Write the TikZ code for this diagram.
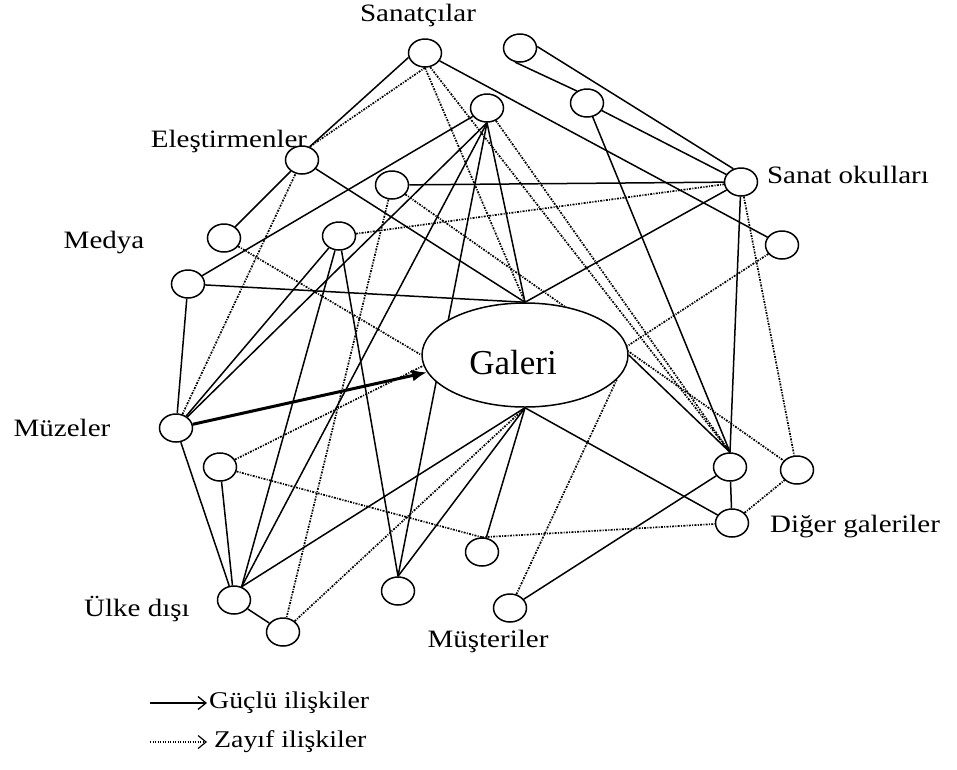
\documentclass[tikz,border=0pt]{standalone}
\usepackage{fontspec}
\setmainfont{Liberation Serif}
\newfontfamily\lblfont[FakeStretch=1.16]{Liberation Serif}
\usetikzlibrary{shapes.geometric,arrows.meta}
\pgfdeclarelayer{bg}
\pgfsetlayers{bg,main}
\begin{document}
\begin{tikzpicture}[x=1pt,y=-1pt,
  nd/.style={draw,ellipse,fill=white,minimum width=33pt,minimum height=28pt,inner sep=0pt,line width=1.5pt},
  galnode/.style={draw,ellipse,fill=white,minimum width=206pt,minimum height=104pt,inner sep=0pt,line width=1.5pt},
  galtext/.style={font=\fontsize{35}{40}\selectfont,inner sep=0pt},
  lbl/.style={font=\lblfont\fontsize{25}{30}\selectfont,inner sep=0pt},
  leg/.style={font=\lblfont\fontsize{24}{28}\selectfont,inner sep=0pt,anchor=west},
  strong/.style={line width=1.5pt},
  weak/.style={line width=1.7pt,dash pattern=on 2pt off 1.3pt on 1pt off 1.3pt},
  bigarrow/.style={line width=3pt,-{Latex[length=15pt,width=12pt]}}
]
\useasboundingbox (0,0) rectangle (957,769);
% nodes
\node[nd] (S1) at (425,53) {};
\node[nd] (S2) at (520,48) {};
\node[nd] (A) at (487,108) {};
\node[nd] (B) at (587,103) {};
\node[nd] (E) at (302,160) {};
\node[nd] (F) at (392,185) {};
\node[nd] (SO) at (741,182) {};
\node[nd] (M1) at (224,238) {};
\node[nd] (G) at (339,236) {};
\node[nd] (R) at (782,245) {};
\node[nd] (M2) at (188,284) {};
\node[galnode] (gal) at (525,355) {};
\node[galtext] (galt) at (513,363) {Galeri};
\node[nd] (MZ) at (176,428) {};
\node[nd] (H) at (220,467) {};
\node[nd] (U) at (234,600) {};
\node[nd] (U2) at (283,632) {};
\node[nd] (K) at (398,591) {};
\node[nd] (L) at (482,552) {};
\node[nd] (MS) at (510,608) {};
\node[nd] (D1) at (730,467) {};
\node[nd] (D2) at (732,523) {};
\node[nd] (D3) at (797,470) {};
% labels
\node[lbl] (tS) at (418,15) {Sanatçılar};
\node[lbl] (tE) at (229,141) {Eleştirmenler};
\node[lbl] (tSO) at (848,175) {Sanat okulları};
\node[lbl] (tM) at (104,243) {Medya};
\node[lbl] (tMZ) at (62,428) {Müzeler};
\node[lbl] (tD) at (855,527) {Diğer galeriler};
\node[lbl] (tU) at (137,609) {Ülke dışı};
\node[lbl] (tMS) at (488,641) {Müşteriler};
% edges
\begin{pgfonlayer}{bg}
\draw[strong] (S1.195) -- (E.60);
\draw[strong] (S1) -- (R);
\draw[strong] (S2.5) -- (SO.120);
\draw[strong] (S2.250) -- (B.130);
\draw[strong] (B) -- (SO);
\draw[strong] (B) -- (D1.north);
\draw[strong] (F) -- (SO);
\draw[strong] (E) -- (M1);
\draw[strong] (E) -- (gal.north);
\draw[strong] (M2) -- (A);
\draw[strong] (M2) -- (gal.north);
\draw[strong] (M2) -- (MZ);
\draw[strong] (A.south) -- (gal.north);
\draw[strong] (A.south) -- (MZ);
\draw[strong] (A.south) -- (U.60);
\draw[strong] (A.south) -- (K.north);
\draw[strong] (SO) -- (gal.north);
\draw[strong] (SO) -- (D1.north);
\draw[strong] (G) -- (MZ);
\draw[strong] (G) -- (U.60);
\draw[strong] (G) -- (K.north);
\draw[strong] (MZ) -- (U);
\draw[strong] (H) -- (U);
\draw[strong] (U) -- (U2);
\draw[strong] (U.60) -- (gal.south);
\draw[strong] (K.north) -- (gal.south);
\draw[strong] (L) -- (gal.south);
\draw[strong] (D2) -- (gal.south);
\draw[strong] (gal.east) -- (D1.north);
\draw[strong] (MS) -- (D1);
\draw[strong] (D1) -- (D2);
\draw[weak] (S1.south) -- (E.60);
\draw[weak] (S1.south) -- (gal.north);
\draw[weak] (S1.-70) -- (D1.north);
\draw[weak] (A) -- (D1.north);
\draw[weak] (F) -- (D3);
\draw[weak] (F) -- (U2);
\draw[weak] (G) -- (SO);
\draw[weak] (M1) -- (gal.west);
\draw[weak] (MZ) -- (E);
\draw[weak] (H) -- (gal.186);
\draw[weak] (H) -- (L.north);
\draw[weak] (L.north) -- (D2);
\draw[weak] (U2) -- (gal.south);
\draw[weak] (MS) -- (gal.-15);
\draw[weak] (R) -- (gal.5);
\draw[weak] (SO) -- (D3);
\draw[weak] (D2) -- (D3);
\end{pgfonlayer}
\draw[bigarrow] (MZ) -- (gal.190);
% legend
\coordinate (la1) at (150,703);
\coordinate (lb1) at (207,703);
\coordinate (la2) at (150,742);
\coordinate (lb2) at (207,742);
\draw[line width=1.3pt,-{Straight Barb[length=8pt,width=13pt]}] (la1) -- (lb1);
\draw[line width=1.2pt,dash pattern=on 1.3pt off 1.2pt,-{Straight Barb[length=8pt,width=13pt]}] (la2) -- (lb2);
\node[leg] (g1) at (209,703) {Güçlü ilişkiler};
\node[leg] (g2) at (214,742) {Zayıf ilişkiler};
\end{tikzpicture}
\end{document}
